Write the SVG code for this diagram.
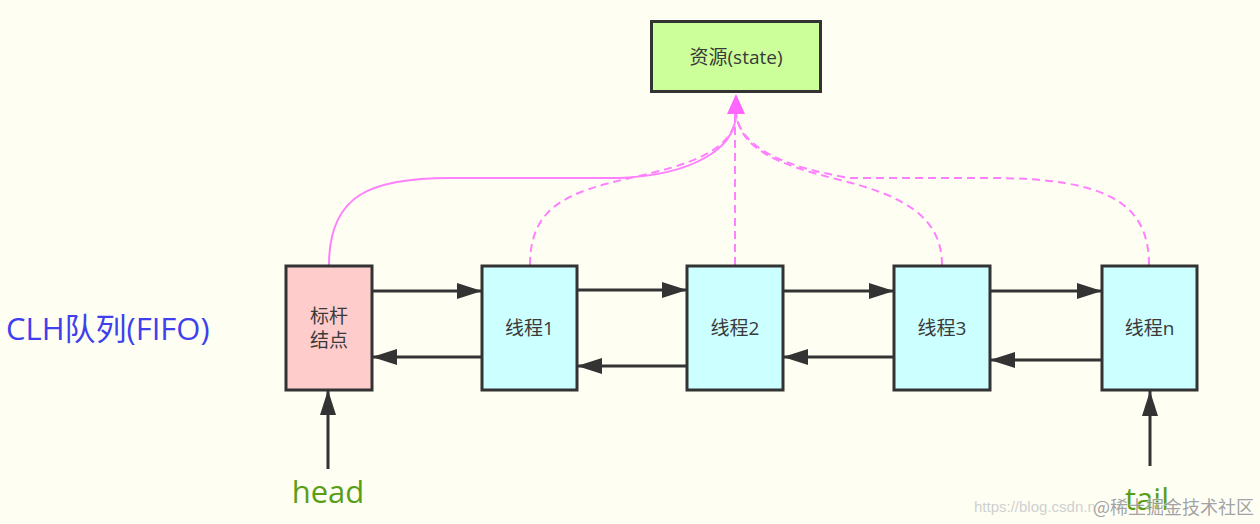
<svg xmlns="http://www.w3.org/2000/svg" width="1260" height="524" viewBox="0 0 1260 524">
<defs>
<style>
.box{stroke:#333;stroke-width:3}
.t{font-family:"Open Sans","Noto Sans CJK SC",sans-serif;font-size:19px;fill:#3a3a3a;text-anchor:middle}
.ln{stroke:#333;stroke-width:3;fill:none}
.pk{stroke:#ff80ff;stroke-width:2;fill:none}
.dash{stroke-dasharray:8 5}
</style>
<marker id="ah" viewBox="0 0 25 16" refX="25" refY="8" markerWidth="25" markerHeight="16" markerUnits="userSpaceOnUse" orient="auto">
<path d="M0,0 L25,8 L0,16 Z" fill="#333"/>
</marker>
</defs>
<rect width="1260" height="524" fill="#fefef3"/>

<g id="connectors">
<path class="pk" d="M329,265 C329,195 370,178 450,178 L620,178 C690,175 736,150 736,113"/>
<path class="pk dash" d="M530,265 C530,205 570,192 630,178 C690,165 736,150 736,113"/>
<path class="pk dash" d="M735,265 L735,113"/>
<path class="pk dash" d="M942,265 C942,215 900,195 840,180 C780,165 740,150 736,113"/>
<path class="pk dash" d="M1149,265 C1149,205 1110,178 990,178 L850,178 C790,168 740,150 736,113"/>
<path d="M736,94 L745,114 L727,114 Z" fill="#ff66ff"/>

<line class="ln" x1="372" y1="291" x2="482" y2="291" marker-end="url(#ah)"/>
<line class="ln" x1="577" y1="290" x2="687" y2="290" marker-end="url(#ah)"/>
<line class="ln" x1="783" y1="291" x2="894" y2="291" marker-end="url(#ah)"/>
<line class="ln" x1="990" y1="291" x2="1102" y2="291" marker-end="url(#ah)"/>

<line class="ln" x1="482" y1="357" x2="372" y2="357" marker-end="url(#ah)"/>
<line class="ln" x1="687" y1="366" x2="577" y2="366" marker-end="url(#ah)"/>
<line class="ln" x1="894" y1="357" x2="783" y2="357" marker-end="url(#ah)"/>
<line class="ln" x1="1102" y1="360" x2="990" y2="360" marker-end="url(#ah)"/>

<line class="ln" x1="328" y1="469" x2="328" y2="390" marker-end="url(#ah)"/>
<line class="ln" x1="1150" y1="466" x2="1150" y2="391" marker-end="url(#ah)"/>
</g>

<g id="state">
<rect class="box" x="651.5" y="21.5" width="169" height="70" fill="#ccff99"/>
<text class="t" x="736" y="64">资源(state)</text>
</g>
<g id="sentinel">
<rect class="box" x="286" y="266" width="86" height="124" fill="#ffcccc"/>
<text class="t" x="329" y="323">标杆</text>
<text class="t" x="329" y="347">结点</text>
</g>
<g id="thread1">
<rect class="box" x="482" y="266" width="95" height="124" fill="#ccffff"/>
<text class="t" x="529.5" y="335">线程1</text>
</g>
<g id="thread2">
<rect class="box" x="687" y="266" width="96" height="124" fill="#ccffff"/>
<text class="t" x="735" y="335">线程2</text>
</g>
<g id="thread3">
<rect class="box" x="894" y="266" width="96" height="124" fill="#ccffff"/>
<text class="t" x="942" y="335">线程3</text>
</g>
<g id="threadn">
<rect class="box" x="1102" y="266" width="95" height="124" fill="#ccffff"/>
<text class="t" x="1149.5" y="335">线程n</text>
</g>

<g id="labels">
<text x="6" y="340" font-family="Open Sans, Noto Sans CJK SC, sans-serif" font-size="31" fill="#3f3fee">CLH队列(FIFO)</text>
<text x="328" y="503" font-family="Open Sans, Noto Sans CJK SC, sans-serif" font-size="31" fill="#5a9e18" text-anchor="middle">head</text>
<text x="1147" y="510" font-family="Open Sans, Noto Sans CJK SC, sans-serif" font-size="31" fill="#5a9e18" text-anchor="middle">tail</text>
</g>
<g id="watermark">
<text x="974" y="512" font-family="Liberation Sans, sans-serif" font-size="15" fill="#d0d0d0">https://blog.csdn.n</text>
<text x="1093" y="514" font-family="Noto Sans CJK SC, sans-serif" font-size="18" fill="#8a8a8a" fill-opacity="0.8" stroke="#ffffff" stroke-width="0.6" paint-order="stroke">@稀土掘金技术社区</text>
</g>
</svg>
